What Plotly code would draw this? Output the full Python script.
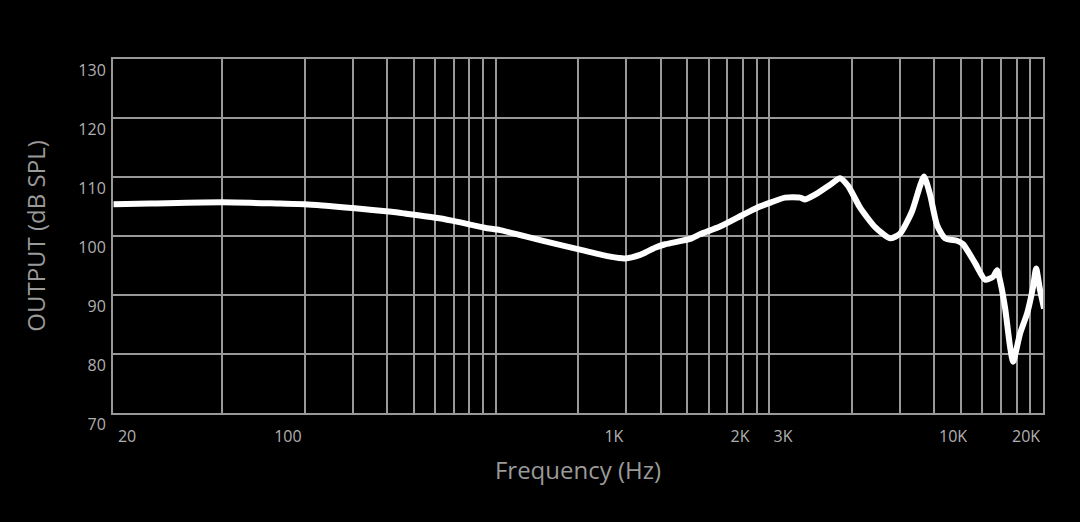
import plotly.graph_objects as go

# Frequency response (Hz, dB SPL)
freq_hz = [8, 10.9, 20, 32.5, 40, 61, 83, 93, 124, 145, 182, 207, 290, 413, 523, 593,
           673, 763, 831, 1025, 1115, 1319, 1601, 1802, 2027, 2280, 2588, 2700, 2936,
           3332, 3624, 3876, 4289, 4866, 5521, 6004, 6643, 7105, 7350, 7731, 8201,
           8770, 9703, 10206, 11290, 12284, 13140, 13590, 13935, 14535, 15160, 15549,
           16494, 17500, 18399, 18870, 19515, 20180]
output_db = [105.4, 105.5, 105.7, 105.5, 105.4, 104.7, 104.1, 103.8, 103.0, 102.4, 101.4,
             101.0, 99.3, 97.6, 96.5, 96.2, 96.8, 98.0, 98.6, 99.5, 100.3, 101.6, 103.6,
             104.8, 105.7, 106.5, 106.5, 106.2, 107.0, 108.7, 109.8, 108.5, 104.8, 101.5,
             99.6, 100.4, 104.2, 108.5, 110.1, 107.0, 101.8, 99.6, 99.2, 98.6, 95.4, 92.6,
             93.1, 94.2, 92.4, 87.8, 81.2, 78.7, 83.5, 86.9, 91.4, 94.5, 90.8, 87.7]

# Tick labels and where they sit on the axis (as drawn in the reference)
tick_text = ["20", "100", "1K", "2K", "3K", "10K", "20K"]
tick_pos_hz = [8.96, 34.7, 540, 1561, 2242, 9383, 17350]

# Grid lines: 1..10 multiples per decade starting at 20 Hz
grid_hz = sorted(set(20 * k * 10 ** d for d in range(3) for k in range(1, 11)))

y_ticks = [70, 80, 90, 100, 110, 120, 130]

GRID = "#999999"
LABEL = "#b0b0b0"
TITLE = "#9a9a9a"
FONT = "Open Sans"

fig = go.Figure()
fig.add_trace(go.Scatter(
    x=freq_hz, y=output_db, mode="lines",
    line=dict(color="white", width=6, shape="spline", smoothing=0.6),
    cliponaxis=False, hoverinfo="skip", showlegend=False,
))

fig.update_layout(
    width=1080, height=522,
    paper_bgcolor="black", plot_bgcolor="black",
    margin=dict(l=113, r=37, t=59, b=109),
    font=dict(family=FONT, color=LABEL),
    showlegend=False,
)

fig.update_xaxes(
    type="log", range=[0.901, 4.301],
    tickmode="array", tickvals=tick_pos_hz, ticktext=tick_text,
    showgrid=False, ticks="", ticklabelstandoff=8,
    tickfont=dict(size=16, color=LABEL, family=FONT),
    minor=dict(tickmode="array", tickvals=grid_hz, showgrid=True,
               gridcolor=GRID, gridwidth=2, ticks=""),
    showline=True, mirror=True, linecolor=GRID, linewidth=2,
    zeroline=False,
    title=dict(text="Frequency (Hz)", font=dict(size=24, color=TITLE, family=FONT), standoff=16),
)

fig.update_yaxes(
    range=[70, 130], tickmode="array", tickvals=y_ticks,
    showgrid=True, gridcolor=GRID, gridwidth=2, ticks="",
    ticklabelshift=11, ticklabelstandoff=2,
    tickfont=dict(size=16, color=LABEL, family=FONT),
    showline=True, mirror=True, linecolor=GRID, linewidth=2,
    zeroline=False,
    title=dict(text="OUTPUT (dB SPL)", font=dict(size=24, color=TITLE, family=FONT), standoff=26),
)

fig.write_html(
    "out.html",
    config={"displayModeBar": False},
    post_script="document.body.style.margin='0';document.body.style.background='black';",
)
